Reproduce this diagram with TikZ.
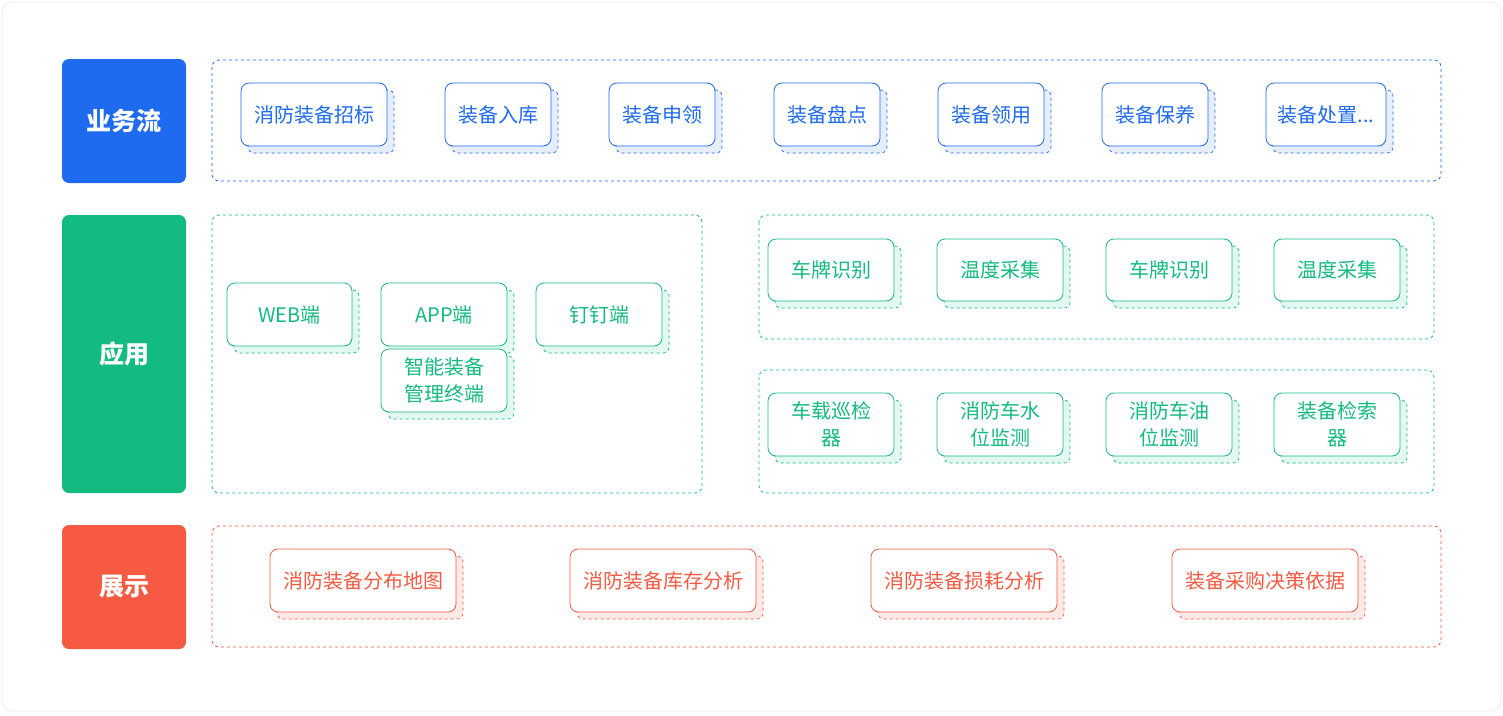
\documentclass[tikz,border=0pt]{standalone}
\usepackage{fontspec}
\setmainfont{Noto Sans CJK SC}
\definecolor{cb}{HTML}{1F6BF0}\definecolor{cg}{HTML}{14BB80}\definecolor{cr}{HTML}{F65A43}
\definecolor{lb}{HTML}{E6EEFD}\definecolor{lg}{HTML}{E3F8F0}\definecolor{lr}{HTML}{FEE9E6}
\tikzset{
 shad/.style={draw=#1,dashed,rounded corners=6pt,line width=0.7pt},
 mainb/.style={draw=#1,fill=white,rounded corners=8pt,line width=0.8pt,text=#1,font=\fontsize{20}{27}\selectfont,align=center},
 cont/.style={draw=#1,dashed,rounded corners=7pt,line width=0.8pt},
 lab/.style={fill=#1,rounded corners=7pt,text=white,font=\fontsize{25}{30}\selectfont\bfseries}
}
\newcommand\cbox[8]{% name x1 y1 x2 y2 text color light
 \path[shad=#7,fill=#8] (#2+7,#3+7) rectangle (#4+7,#5+7);
 \node[mainb=#7,minimum width=#4-#2,minimum height=#5-#3,inner sep=0pt] (#1) at ({(#2+#4)/2},{(#3+#5)/2}) {#6};}
\begin{document}
\begin{tikzpicture}[x=1pt,y=-1pt]
\useasboundingbox (0,0) rectangle (1503,715);
\fill[white] (0,0) rectangle (1503,715);
\draw[draw=black!6,line width=1pt,rounded corners=10pt] (2,2) rectangle (1501,711);
% labels
\node[lab=cb,minimum width=124pt,minimum height=124pt] (l1) at (124,121) {业务流};
\node[lab=cg,minimum width=124pt,minimum height=278pt] (l2) at (124,354) {应用};
\node[lab=cr,minimum width=124pt,minimum height=124pt] (l3) at (124,587) {展示};
% containers
\draw[cont=cb] (212,60) rectangle (1441,181);
\draw[cont=cg] (212,215) rectangle (702,493);
\draw[cont=cg] (759,215) rectangle (1434,339);
\draw[cont=cg] (759,370) rectangle (1434,493);
\draw[cont=cr] (212,526) rectangle (1441,647);
% blue
\cbox{b1}{241}{83}{387}{146}{消防装备招标}{cb}{lb}
\cbox{b2}{445}{83}{551}{146}{装备入库}{cb}{lb}
\cbox{b3}{609}{83}{715}{146}{装备申领}{cb}{lb}
\cbox{b4}{774}{83}{880}{146}{装备盘点}{cb}{lb}
\cbox{b5}{938}{83}{1044}{146}{装备领用}{cb}{lb}
\cbox{b6}{1102}{83}{1208}{146}{装备保养}{cb}{lb}
\cbox{b7}{1266}{83}{1386}{146}{装备处置...}{cb}{lb}
% green left
\cbox{g1}{227}{283}{352}{346}{WEB端}{cg}{lg}
\cbox{g2}{381}{283}{507}{346}{APP端}{cg}{lg}
\cbox{g3}{536}{283}{662}{346}{钉钉端}{cg}{lg}
\cbox{g4}{381}{349}{507}{412}{智能装备\\管理终端}{cg}{lg}
% green right
\cbox{g5}{768}{239}{894}{301}{车牌识别}{cg}{lg}
\cbox{g6}{937}{239}{1063}{301}{温度采集}{cg}{lg}
\cbox{g7}{1106}{239}{1232}{301}{车牌识别}{cg}{lg}
\cbox{g8}{1274}{239}{1400}{301}{温度采集}{cg}{lg}
\cbox{g9}{768}{393}{894}{456}{车载巡检\\器}{cg}{lg}
\cbox{g10}{937}{393}{1063}{456}{消防车水\\位监测}{cg}{lg}
\cbox{g11}{1106}{393}{1232}{456}{消防车油\\位监测}{cg}{lg}
\cbox{g12}{1274}{393}{1400}{456}{装备检索\\器}{cg}{lg}
% red
\cbox{r1}{270}{549}{456}{612}{消防装备分布地图}{cr}{lr}
\cbox{r2}{570}{549}{756}{612}{消防装备库存分析}{cr}{lr}
\cbox{r3}{871}{549}{1057}{612}{消防装备损耗分析}{cr}{lr}
\cbox{r4}{1172}{549}{1358}{612}{装备采购决策依据}{cr}{lr}
\end{tikzpicture}
\end{document}
